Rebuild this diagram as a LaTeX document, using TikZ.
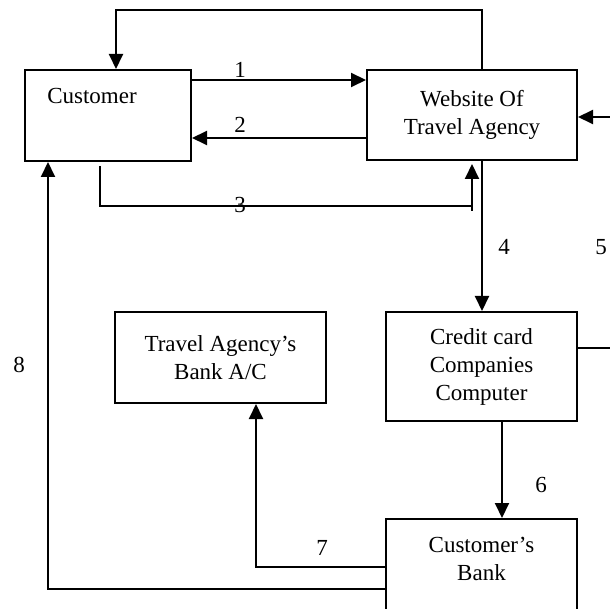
\documentclass[tikz,border=0pt]{standalone}
\usepackage{fontspec}
\setmainfont{Liberation Serif}
\usetikzlibrary{arrows.meta}
\begin{document}
\begin{tikzpicture}[x=1pt,y=-1pt,
  box/.style={draw,line width=2pt,minimum width=#1,inner sep=0pt},
  txt/.style={font=\fontsize{23}{28}\selectfont,align=center,inner sep=0pt},
  lbl/.style={font=\fontsize{23}{28}\selectfont,inner sep=0pt},
  conn/.style={line width=2pt},
  arr/.style={line width=2pt,-{Triangle[length=15pt,width=14pt]}}]
\clip (0,0) rectangle (610,609);
% boxes
\node[box=166pt,minimum height=91pt] (cust) at (108,115.5) {};
\node[txt] (custt) at (92,96) {Customer};
\node[box=210pt,minimum height=90pt,txt] (web) at (472,115) {Website Of\\Travel Agency};
\node[box=191pt,minimum height=109pt,txt] (cc) at (481.5,366.5) {Credit card\\Companies\\Computer};
\node[box=211pt,minimum height=91pt,txt] (tab) at (220.5,357.5) {Travel Agency’s\\Bank A/C};
\node[box=191pt,minimum height=112pt] (cb) at (481.5,575) {};
\node[txt] (cbt) at (481.5,559) {Customer’s\\Bank};
% coordinates
\coordinate (t1) at (482,10);
\coordinate (t2) at (116,10);
\coordinate (y1) at (0,80);
\coordinate (y2) at (0,138);
\coordinate (s3) at (100,166);
\coordinate (c3) at (100,206);
\coordinate (d3) at (472,206);
\coordinate (e3) at (472,211);
\coordinate (x4) at (482,0);
\coordinate (r5) at (613,348);
\coordinate (q5) at (613,117);
\coordinate (x6) at (502,0);
\coordinate (c7) at (256,567);
\coordinate (c8) at (48,589);
% connectors
\draw[arr] (web.north -| t1) -- (t1) -- (t2) -- (cust.north -| t2);
\draw[arr] (cust.east |- y1) -- (web.west |- y1);
\draw[arr] (web.west |- y2) -- (cust.east |- y2);
\draw[conn] (s3) -- (c3) -- (d3);
\draw[arr,shorten >=3pt] (e3) -- (web.south -| e3);
\draw[arr] (web.south -| x4) -- (cc.north -| x4);
\draw[arr] (cc.east |- r5) -- (r5) -- (q5) -- (web.east |- q5);
\draw[arr] (cc.south -| x6) -- (cb.north -| x6);
\draw[arr] (cb.west |- c7) -- (c7) -- (tab.south -| c7);
\draw[arr] (cb.west |- c8) -- (c8) -- (cust.south -| c8);
% labels
\node[lbl] (l1) at (240,70) {1};
\node[lbl] (l2) at (240,125) {2};
\node[lbl] (l3) at (240,205) {3};
\node[lbl] (l4) at (504,247) {4};
\node[lbl] (l5) at (601,247) {5};
\node[lbl] (l6) at (541,485) {6};
\node[lbl] (l7) at (322,548) {7};
\node[lbl] (l8) at (19,365) {8};
\end{tikzpicture}
\end{document}
